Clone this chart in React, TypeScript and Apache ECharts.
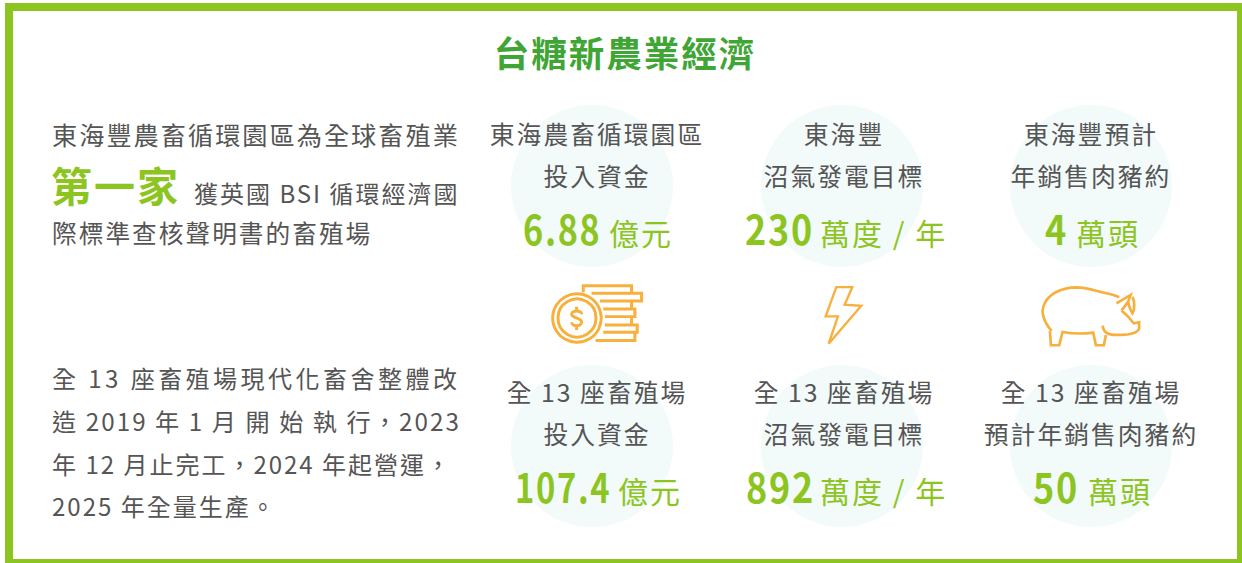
import React, { useEffect, useRef } from "react";
import * as echarts from "echarts";

const TITLE = "台糖新農業經濟";
const INTRO_TOP = ["東海豐農畜循環園區為全球畜殖業", "獲英國 BSI 循環經濟國", "際標準查核聲明書的畜殖場"];
const HIGHLIGHT = "第一家";
const INTRO_BOTTOM = ["全 13 座畜殖場現代化畜舍整體改", "造 2019 年 1 月 開 始 執 行，2023", "年 12 月止完工，2024 年起營運，", "2025 年全量生產。"];
const CARD_LINE_1 = ["東海農畜循環園區", "東海豐", "東海豐預計", "全 13 座畜殖場", "全 13 座畜殖場", "全 13 座畜殖場"];
const CARD_LINE_2 = ["投入資金", "沼氣發電目標", "年銷售肉豬約", "投入資金", "沼氣發電目標", "預計年銷售肉豬約"];
const CARD_VALUES = ["6.88", "230", "4", "107.4", "892", "50"];
const CARD_UNITS = ["億元", "萬度 / 年", "萬頭", "億元", "萬度 / 年", "萬頭"];

const GREEN = "#8cc51f";
const TEXT = "#555555";
const ORANGE = "#f8b03c";
const CJK = '"Noto Sans CJK TC", "Noto Sans", sans-serif';

const COIN = "M160 52 V32 H305 V52 M185 55 H335 V78 H210 M305 78 V100 M220 102 H315 V125 H225 M305 125 V150 M225 150 H322 V172 H220 M315 172 V197 H197 M155 118 C155 105 125 105 125 118 C125 130 155 128 155 142 C155 156 125 156 125 142 M140 95 V105 M140 155 V165";
const BOLT = "M1070 592 H1118 L1095 645 L1145 648 L1047 762 L1075 680 H1038 Z";
const PIG = "M215 183 C190 155 183 125 192 105 C205 72 245 52 290 52 C330 53 345 63 380 70 C395 73 408 77 418 82 M410 100 L452 75 L445 95 L425 122 M458 80 C466 100 465 115 458 130 C452 122 448 112 445 95 M425 122 L440 135 L462 160 L478 157 V175 C474 188 450 195 425 195 C405 195 380 197 372 180 L368 167 M378 195 L372 226 H348 L340 188 C310 192 280 192 248 186 L238 226 H213 L210 183";

export default function App() {
  const ref = useRef<HTMLDivElement>(null);
  useEffect(() => {
    document.body.style.margin = "0";
    echarts.graphic.registerShape("coinStack", echarts.graphic.extendPath(COIN, {}));
    echarts.graphic.registerShape("bolt", echarts.graphic.extendPath(BOLT, {}));
    echarts.graphic.registerShape("pig", echarts.graphic.extendPath(PIG, {}));
    const chart = echarts.init(ref.current!, undefined, { renderer: "svg" });
    const txt = (text: string, x: number, y: number, size: number, fill: string, align = "left", fontWeight = 400, scaleX = 1) => ({
      type: "text", x, y, scaleX, style: { text, fontSize: size, fill, align, verticalAlign: "middle", fontFamily: CJK, fontWeight },
    });
    const els: any[] = [
      { type: "rect", shape: { x: 5, y: 3, width: 1237, height: 560 }, style: { fill: GREEN } },
      { type: "rect", shape: { x: 13, y: 11, width: 1224, height: 548 }, style: { fill: "#fff" } },
      txt(TITLE, 625, 51, 35.5, "#3fa535", "center", 700),
      txt(INTRO_TOP[0], 52, 134, 25.2, TEXT),
      txt(HIGHLIGHT, 51, 184, 41, GREEN, "left", 700),
      txt(INTRO_TOP[1], 194, 192, 24, TEXT),
      txt(INTRO_TOP[2], 52, 232, 24.7, TEXT),
    ];
    [377, 420, 463, 505].forEach((y, i) => els.push(txt(INTRO_BOTTOM[i], 52, y, i === 0 ? 24.1 : i === 1 ? 24.2 : 24, TEXT)));
    const cx = [597, 844, 1091];
    const circleX = [592, 842, 1091];
    const valueLeft = [523, 745, 1045, 515, 746, 1033];
    const valueScale = [0.855, 0.9, 0.9, 0.82, 0.9, 0.9];
    const unitLeft = [609, 820, 1076, 618, 820, 1088];
    CARD_VALUES.forEach((v, i) => {
      const c = i % 3;
      const top = i < 3 ? 0 : 258;
      els.push({ type: "circle", shape: { cx: circleX[c], cy: 186 + (i < 3 ? 0 : 260), r: 81 }, style: { fill: "#f3fafa" } });
      els.push(txt(CARD_LINE_1[i], cx[c], 133 + top, 24.8, TEXT, "center"));
      els.push(txt(CARD_LINE_2[i], cx[c], 175 + top, 24.8, TEXT, "center"));
      els.push(txt(v, valueLeft[i], 228 + top, 40, GREEN, "left", 700, valueScale[i]));
      els.push(txt(CARD_UNITS[i], unitLeft[i], 232 + top, 30, GREEN, "left"));
    });
    const iconStyle = { fill: "none", stroke: ORANGE, lineWidth: 8 };
    els.push({ type: "coinStack", x: 530, y: 275, scaleX: 1 / 3, scaleY: 1 / 3, style: { ...iconStyle, lineWidth: 9 } });
    els.push({ type: "circle", shape: { cx: 577, cy: 318, r: 24.3 }, style: { fill: "none", stroke: ORANGE, lineWidth: 3 } });
    els.push({ type: "circle", shape: { cx: 577, cy: 318, r: 19 }, style: { fill: "none", stroke: ORANGE, lineWidth: 3 } });
    els.push({ type: "bolt", x: 480, y: 90, scaleX: 1 / 3, scaleY: 1 / 3, style: { ...iconStyle, lineWidth: 7 } });
    els.push({ type: "pig", x: 980, y: 270, scaleX: 1 / 3, scaleY: 1 / 3, style: iconStyle });
    chart.setOption({ animation: false, graphic: { elements: els } });
    return () => chart.dispose();
  }, []);
  return (
    <div ref={ref} lang="zh-TW" style={{ width: 1242, height: 563, letterSpacing: 2 }}>
      <style>{`text[style*="24.1px"]{letter-spacing:3.4px} text[style*="24.2px"]{letter-spacing:2.05px}`}</style>
    </div>
  );
}
